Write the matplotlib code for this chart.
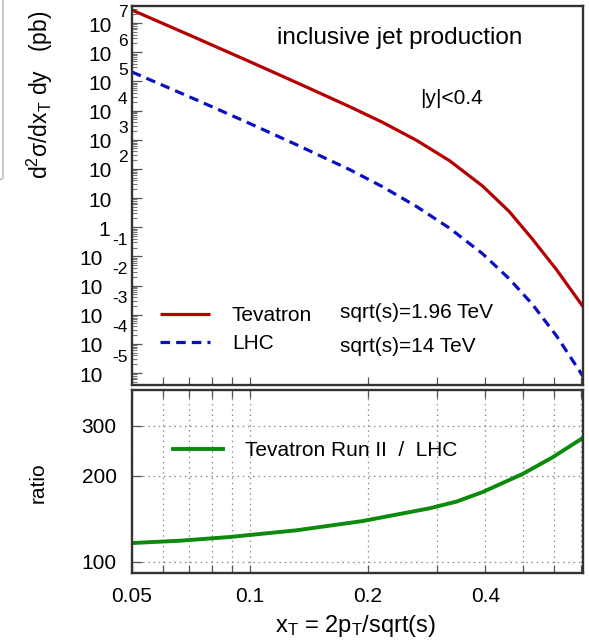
import matplotlib
matplotlib.use("Agg")
import matplotlib.pyplot as plt
import matplotlib.transforms as mtrans
from matplotlib.lines import Line2D
import numpy as np

plt.rcParams['font.family'] = ['Liberation Sans', 'DejaVu Sans']
plt.rcParams['mathtext.fontset'] = 'custom'
plt.rcParams['mathtext.rm'] = 'Liberation Sans'
plt.rcParams['mathtext.it'] = 'Liberation Sans:italic'
plt.rcParams['mathtext.bf'] = 'Liberation Sans:bold'

# ---------------- data ----------------
tev_x = [0.05, 0.0731, 0.1, 0.134, 0.180, 0.218, 0.2667, 0.324, 0.393, 0.460, 0.527, 0.607, 0.71]
tev_y = [2.79e7, 3.02e6, 4.72e5, 8.17e4, 1.35e4, 3.97e3, 948, 189, 25.9, 3.44, 0.392, 0.0354, 1.89e-3]

lhc_x = [0.05, 0.0731, 0.1, 0.134, 0.180, 0.218, 0.2667, 0.324, 0.393, 0.460, 0.527, 0.607, 0.71]
lhc_y = [2.09e5, 2.31e4, 3.58e3, 601, 94.0, 24.6, 5.11, 0.920, 0.124, 0.0170, 2.28e-3, 1.91e-4, 7.73e-6]

ratio_x = [0.05, 0.0663, 0.0888, 0.1316, 0.1936, 0.287, 0.337, 0.393, 0.498, 0.594, 0.71]
ratio_y = [116.5, 118.7, 122.3, 129.1, 139.0, 154.0, 162.6, 175.6, 203.4, 232.6, 272.0]

x_ticks = [0.05, 0.06, 0.07, 0.08, 0.09, 0.1, 0.2, 0.3, 0.4, 0.5, 0.6, 0.7]
x_ticklabels = ['0.05', '', '', '', '', '0.1', '0.2', '', '0.4', '', '', '']
top_exponents = list(range(-5, 8))
ratio_ticks = [100, 200, 300]
ratio_ticklabels = ['100', '200', '300']

legend_top = ['Tevatron', 'LHC']
energies = ['sqrt(s)=1.96 TeV', 'sqrt(s)=14 TeV']
legend_bottom = ['Tevatron Run II  /  LHC']

RED = '#b40000'
BLUE = '#0a10c0'
GREEN = '#0b8a0b'
SPINE = '#333333'

W, H = 589, 643
fig = plt.figure(figsize=(W / 100, H / 100), dpi=100)
ax1 = fig.add_axes([132 / W, 1 - 385 / H, 451 / W, 379 / H])
ax2 = fig.add_axes([132 / W, 1 - 573 / H, 451 / W, 183 / H])

xmin, xmax = 0.05, 0.71

# ---------------- top panel ----------------
l1, = ax1.plot(tev_x, tev_y, color=RED, lw=2.3, solid_capstyle='butt')
l2, = ax1.plot(lhc_x, lhc_y, color=BLUE, lw=2.3, dashes=(3.0, 1.9))
ax1.set_xscale('log')
ax1.set_yscale('log')
ax1.set_xlim(xmin, xmax)
ax1.set_ylim(3.88e-6, 3.83e7)
ax1.set_xticks(x_ticks)
ax1.set_xticklabels([''] * len(x_ticks))
ax1.xaxis.set_minor_locator(matplotlib.ticker.NullLocator())
ax1.yaxis.set_major_locator(matplotlib.ticker.FixedLocator([10.0 ** n for n in top_exponents]))
ax1.yaxis.set_minor_locator(matplotlib.ticker.LogLocator(base=10, subs=np.arange(2, 10), numticks=30))
ax1.yaxis.set_major_formatter(matplotlib.ticker.NullFormatter())
ax1.yaxis.set_minor_formatter(matplotlib.ticker.NullFormatter())
ax1.tick_params(axis='x', which='major', direction='in', length=5.5, width=0.9, color='#555555',
                bottom=True, top=False)
ax1.tick_params(axis='y', which='major', direction='in', length=7.5, width=0.9, color='#555555',
                left=True, right=False)
ax1.tick_params(axis='y', which='minor', direction='in', length=3.8, width=0.8, color='#777777',
                left=True, right=False)

# custom gnuplot-like y tick labels
trans = mtrans.blended_transform_factory(fig.transFigure, ax1.transData)
px = 1 / 100.0
for n in top_exponents:
    yv = 10.0 ** n
    down = mtrans.ScaledTranslation(0, -3 * px, fig.dpi_scale_trans)
    if n == 0:
        ax1.text(110 / W, yv, '1', transform=trans + down, ha='right', va='center', fontsize=15)
    elif n == 1:
        ax1.text(112 / W, yv, '10', transform=trans + down, ha='right', va='center', fontsize=15)
    elif n > 1:
        ax1.text(112 / W, yv, '10', transform=trans + down, ha='right', va='center', fontsize=15)
        up = mtrans.ScaledTranslation(0, 11 * px, fig.dpi_scale_trans)
        ax1.text(118 / W, yv, str(n), transform=trans + up, ha='left', va='center', fontsize=12.5)
    else:
        ax1.text(103 / W, yv, '10', transform=trans + down, ha='right', va='center', fontsize=15)
        up = mtrans.ScaledTranslation(0, 16 * px, fig.dpi_scale_trans)
        ax1.text(112 / W, yv, str(n), transform=trans + up, ha='left', va='center', fontsize=12.5)

leg1 = ax1.legend([l1, l2], legend_top, loc='center left', bbox_to_anchor=(0.062, 0.146),
                  frameon=False, fontsize=15, handlelength=2.4, handletextpad=1.05,
                  labelspacing=0.45, borderpad=0, borderaxespad=0)
ax1.text(0.461, 0.19, energies[0], transform=ax1.transAxes, fontsize=15, ha='left', va='center')
ax1.text(0.461, 0.1003, energies[1], transform=ax1.transAxes, fontsize=15, ha='left', va='center')
ax1.text(0.3215, 0.9156, 'inclusive jet production', transform=ax1.transAxes, fontsize=17.5,
         ha='left', va='center')
ax1.text(0.6386, 0.757, '|y|<0.4', transform=ax1.transAxes, fontsize=15, ha='left', va='center')

# ---------------- bottom panel ----------------
l3, = ax2.plot(ratio_x, ratio_y, color=GREEN, lw=2.8)
ax2.set_xscale('log')
ax2.set_yscale('log')
ax2.set_xlim(xmin, xmax)
ax2.set_ylim(91.5, 400)
ax2.set_xticks(x_ticks)
ax2.set_xticklabels(x_ticklabels)
ax2.xaxis.set_minor_locator(matplotlib.ticker.NullLocator())
ax2.set_yticks(ratio_ticks)
ax2.set_yticklabels(ratio_ticklabels)
ax2.yaxis.set_minor_locator(matplotlib.ticker.NullLocator())
ax2.tick_params(axis='x', which='major', direction='in', length=6, width=0.9, color='#555555',
                bottom=True, top=True, labelsize=15, pad=10)
ax2.tick_params(axis='y', which='major', direction='in', length=7, width=0.9, color='#555555',
                left=True, right=False, labelsize=15, pad=11)
ax2.grid(True, which='major', axis='both', color='#8a8a8a', linestyle=(0, (1.2, 3)), lw=0.9)

ax2.legend([l3], legend_bottom, loc='center left', bbox_to_anchor=(0.091, 0.667),
           frameon=False, fontsize=15, handlelength=2.4, handletextpad=1.05,
           borderpad=0, borderaxespad=0)

for ax in (ax1, ax2):
    for s in ax.spines.values():
        s.set_color(SPINE)
        s.set_linewidth(1.7)

# axis titles
fig.text(40 / W, 1 - 95 / H, 'd$^{\\mathregular{2}}$σ/dx$_{\\mathregular{T}}$ dy   (pb)', rotation=90,
         ha='center', va='center', fontsize=16.5)
fig.text(38 / W, 1 - 483 / H, 'ratio', rotation=90, ha='center', va='center', fontsize=15)
fig.text(356 / W, 1 - 626 / H, 'x$_{\\mathregular{T}}$ = 2p$_{\\mathregular{T}}$/sqrt(s)',
         ha='center', va='center', fontsize=17)

# window frame remnant at the left edge of the screenshot
fig.lines.append(Line2D([3 / W, 3 / W, 0], [1.0, 1 - 178 / H, 1 - 180 / H], transform=fig.transFigure,
                        color='#b5b5b5', lw=1.0))

fig.savefig('out.png', dpi=100)
